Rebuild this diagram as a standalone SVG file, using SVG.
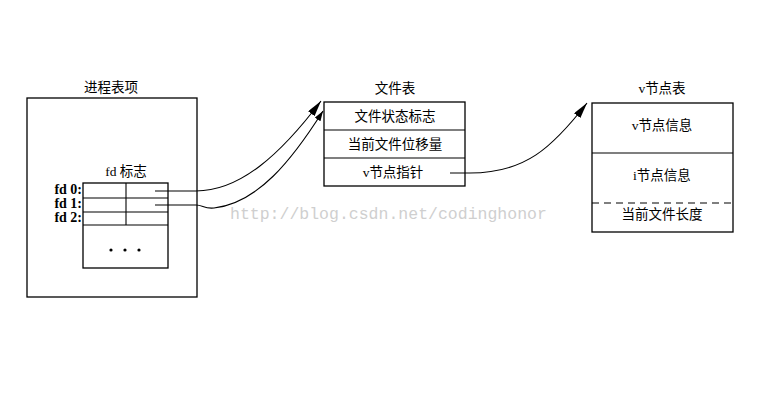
<svg xmlns="http://www.w3.org/2000/svg" width="762" height="407" viewBox="0 0 762 407">
<defs>
<style>
.box{fill:none;stroke:#000;stroke-width:1.3}
.ln{fill:none;stroke:#000;stroke-width:1.1}
.t{font-family:"Liberation Serif","Noto Sans CJK SC",serif;font-size:13.5px;fill:#000;text-anchor:middle}
.fd{font-family:"Liberation Serif","Noto Sans CJK SC",serif;font-size:14px;font-weight:bold;fill:#000;text-anchor:end}
.wm{font-family:"Liberation Mono",monospace;font-size:16.5px;fill:#cfcfcf}
</style>
<marker id="ah" viewBox="0 0 16 8" refX="16" refY="4" markerWidth="16" markerHeight="8" markerUnits="userSpaceOnUse" orient="auto">
<path d="M0,0 L16,4 L0,8 Z" fill="#000"/>
</marker>
<marker id="ah2" viewBox="0 0 12 8" refX="12" refY="4" markerWidth="10" markerHeight="7" markerUnits="userSpaceOnUse" orient="auto">
<path d="M0,0 L12,4 L0,8 Z" fill="#000"/>
</marker>
</defs>
<rect width="762" height="407" fill="#fff"/>
<text class="wm" x="230" y="219">http://blog.csdn.net/codinghonor</text>
<g id="process">
<text class="t" x="111" y="92">进程表项</text>
<rect class="box" x="27" y="98" width="170" height="199"/>
<text class="t" x="126" y="176">fd 标志</text>
<rect class="box" x="83" y="183" width="85" height="85"/>
<line class="ln" x1="83" y1="198" x2="168" y2="198"/>
<line class="ln" x1="83" y1="212" x2="168" y2="212"/>
<line class="ln" x1="83" y1="225" x2="168" y2="225"/>
<line class="ln" x1="126" y1="183" x2="126" y2="225"/>
<text class="fd" x="82" y="194">fd 0:</text>
<text class="fd" x="82" y="208">fd 1:</text>
<text class="fd" x="82" y="222">fd 2:</text>
<circle cx="111" cy="250" r="1.6" fill="#000"/>
<circle cx="125" cy="250" r="1.6" fill="#000"/>
<circle cx="139" cy="250" r="1.6" fill="#000"/>
</g>
<g id="filetable">
<text class="t" x="395" y="93">文件表</text>
<rect class="box" x="324" y="102" width="141" height="84"/>
<line class="ln" x1="324" y1="130" x2="465" y2="130"/>
<line class="ln" x1="324" y1="158" x2="465" y2="158"/>
<text class="t" x="395" y="121">文件状态标志</text>
<text class="t" x="395" y="149">当前文件位移量</text>
<text class="t" x="393" y="177">v节点指针</text>
</g>
<g id="vnodetable">
<text class="t" x="662" y="93">v节点表</text>
<rect class="box" x="592" y="103" width="141" height="129"/>
<line class="ln" x1="592" y1="153" x2="733" y2="153"/>
<line class="ln" x1="592" y1="203" x2="733" y2="203" stroke-dasharray="7,5"/>
<text class="t" x="662" y="130">v节点信息</text>
<text class="t" x="662" y="180">i节点信息</text>
<text class="t" x="662" y="219">当前文件长度</text>
</g>
<g id="connectors">
<path class="ln" d="M155,191 L196,191 C240,191 280,155 321,101" marker-end="url(#ah)"/>
<path class="ln" d="M155,205 L196,205 C203,205 204,209 214,208 C258,203 292,160 323,111" marker-end="url(#ah2)"/>
<path class="ln" d="M450,173 L470,173 C525,173 552,148 587,103" marker-end="url(#ah)"/>
</g>
</svg>
